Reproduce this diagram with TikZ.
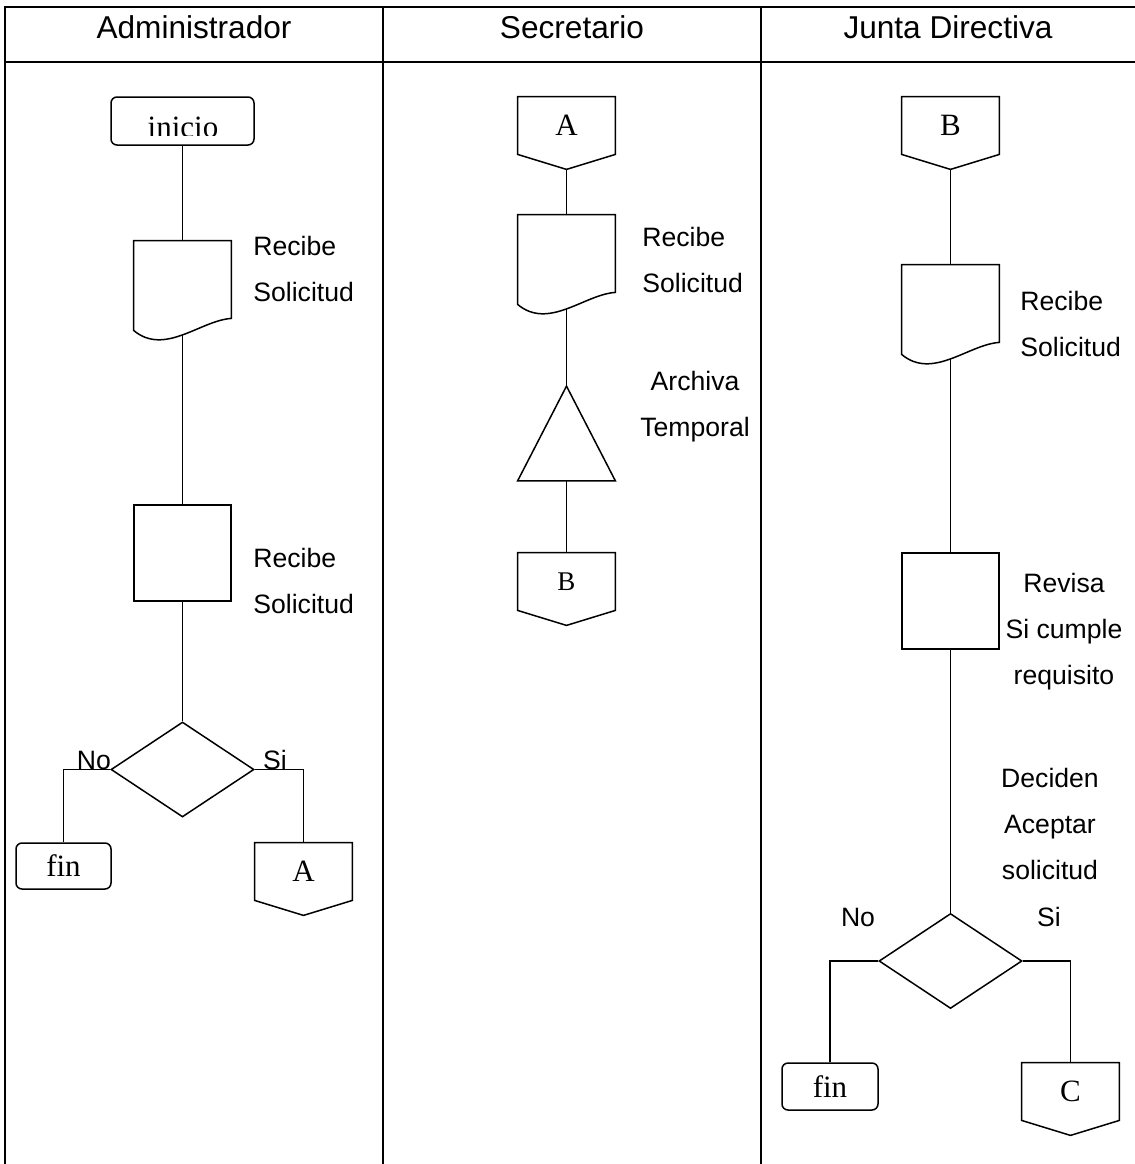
\documentclass[tikz,border=0pt]{standalone}
\usepackage{fontspec}
\setmainfont{Liberation Serif}
\setsansfont{Liberation Sans}
\usetikzlibrary{shapes.geometric}

% document symbol: straight top, wavy bottom
\newcommand{\docshape}[1]{%
\draw[shp] (#1.north west) -- (#1.north east) -- ([yshift=8.5pt]#1.south east)
  .. controls +(-31,2) and +(31,26) .. ([yshift=2.5pt]#1.south west) -- cycle;}
% off-page connector, with its tip as a coordinate
\newcommand{\pagecon}[1]{%
\draw[shp] (#1.north west) -- (#1.north east) -- (#1.south east)
  -- ([yshift=-7.5pt]#1.south) -- (#1.south west) -- cycle;
\coordinate (#1-tip) at ([yshift=-7.5pt]#1.south);}

\begin{document}
\begin{tikzpicture}[x=0.5pt,y=-0.5pt,
shp/.style={draw, line width=0.75pt},
lanes/.style={line width=1pt},
hdr/.style={font=\sffamily\fontsize{15.8}{19}\selectfont},
txt/.style={font=\sffamily\fontsize{13.3}{23}\selectfont, inner sep=0pt},
term/.style={shp, rounded corners=3pt, minimum width=47.5pt, minimum height=23pt,
  inner sep=0pt, font=\fontsize{15.5}{18}\selectfont},
proc/.style={shp, minimum width=48.5pt, minimum height=48pt, inner sep=0pt},
decide/.style={shp, diamond, minimum width=71.5pt, minimum height=47.5pt, inner sep=0pt},
doc/.style={minimum width=48.5pt, minimum height=47pt, inner sep=0pt},
conpage/.style={minimum width=48.5pt, minimum height=28.5pt, inner sep=0pt,
  font=\fontsize{15.5}{18}\selectfont},
]
\useasboundingbox (0,0) rectangle (1135,1164);
%% Swimlanes
\draw[lanes] (5,1164) -- (5,7) -- (1135,7);
\draw[lanes] (5,62) -- (1135,62);
\draw[lanes] (383,7) -- (383,1164);
\draw[lanes] (761,7) -- (761,1164);
\node[hdr] (hadm) at (194,27) {Administrador};
\node[hdr] (hsec) at (572,27) {Secretario};
\node[hdr] (hjun) at (948,27) {Junta Directiva};
%% Administrador
\node[term, minimum width=71.5pt, minimum height=24pt] (inicio) at (182.5,121) {};
\begin{scope}
\clip (100,100) rectangle (270,135);
\node[font=\fontsize{15.5}{18}\selectfont, anchor=base, inner sep=0pt] (tinicio) at (183,137) {inicio};
\end{scope}
\node[doc] (adoc) at (182.5,288) {};
\docshape{adoc}
\node[txt, align=left, anchor=west] (tadoc) at (253,269) {Recibe\\Solicitud};
\node[proc] (aproc) at (182.5,553) {};
\node[txt, align=left, anchor=west] (taproc) at (253,581) {Recibe\\Solicitud};
\node[decide] (adec) at (182.5,769.5) {};
\node[term] (afin) at (63.5,866) {fin};
\node[conpage] (acon) at (303.5,871.5) {A};
\pagecon{acon}
\node[txt, anchor=base] (ano) at (94,769) {No};
\node[txt, anchor=base] (asi) at (275,769) {Si};
\draw[shp] (inicio.south) -- (adoc.north);
\draw[shp] (adoc.south) -- (aproc.north);
\draw[shp] (aproc.south) -- (adec.north);
\draw[shp] (adec.west) -| (afin.north);
\draw[shp] (adec.east) -| (acon.north);
%% Secretario
\node[conpage] (scon) at (566.5,125.5) {A};
\pagecon{scon}
\node[doc] (sdoc) at (566.5,262) {};
\docshape{sdoc}
\node[txt, align=left, anchor=west] (tsdoc) at (642,259.5) {Recibe\\Solicitud};
\node[doc] (sarch) at (566.5,433.5) {};
\draw[shp] (sarch.south west) -- (sarch.north) -- (sarch.south east) -- cycle;
\node[txt, align=center] (tsarch) at (695,407) {Archiva\\Temporal};
\node[conpage, font=\fontsize{13.5}{16}\selectfont] (sconb) at (566.5,581.5) {B};
\pagecon{sconb}
\draw[shp] (scon-tip) -- (sdoc.north);
\draw[shp] (sdoc.south) -- (sarch.north);
\draw[shp] (sarch.south) -- (sconb.north);
%% Junta Directiva
\node[conpage] (jcon) at (950.5,125.5) {B};
\pagecon{jcon}
\node[doc] (jdoc) at (950.5,312) {};
\docshape{jdoc}
\node[txt, align=left, anchor=west] (tjdoc) at (1020,323.5) {Recibe\\Solicitud};
\node[proc] (jproc) at (950.5,601) {};
\node[txt, align=center] (tjproc) at (1064,632) {Revisa\\Si cumple\\requisito};
\node[txt, align=center] (tjdec) at (1050,824) {Deciden\\Aceptar\\solicitud};
\node[decide] (jdec) at (950.5,961) {};
\node[txt] (jno) at (858,917) {No};
\node[txt] (jsi) at (1049,917) {Si};
\node[term, minimum width=48pt, minimum height=23.5pt] (jfin) at (830,1086.5) {fin};
\node[conpage] (jconc) at (1070.5,1091.5) {C};
\pagecon{jconc}
\draw[shp] (jcon-tip) -- (jdoc.north);
\draw[shp] (jdoc.south) -- (jproc.north);
\draw[shp] (jproc.south) -- (jdec.north);
\draw[shp] (jdec.west) -| (jfin.north);
\draw[shp] (jdec.east) -| (jconc.north);
\end{tikzpicture}
\end{document}
